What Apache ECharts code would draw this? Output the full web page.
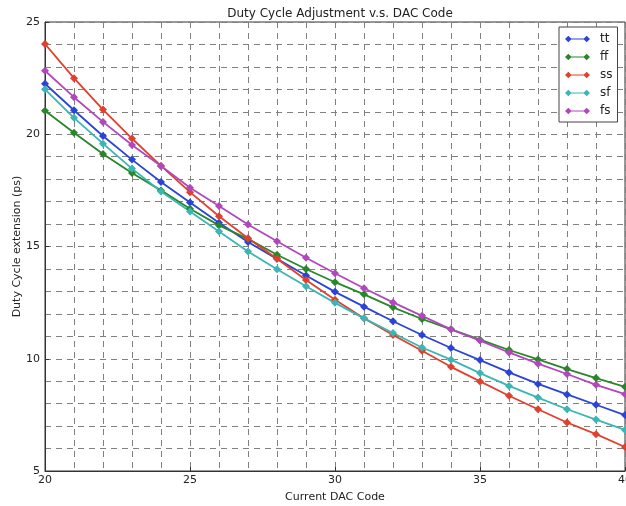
<!DOCTYPE html>
<html>
<head>
<meta charset="utf-8">
<script src="https://cdn.jsdelivr.net/npm/echarts@6/dist/echarts.min.js"></script>
<style>
html,body{margin:0;padding:0;background:#fff;}
#chart{width:626px;height:506px;}
</style>
</head>
<body>
<div id="chart"></div>
<script>
const codes = [20,21,22,23,24,25,26,27,28,29,30,31,32,33,34,35,36,37,38,39,40];
const seriesNames = ['tt','ff','ss','sf','fs'];
const tt = [22.25,21.07,19.92,18.87,17.87,16.96,16.06,15.2,14.45,13.71,12.98,12.32,11.67,11.06,10.48,9.94,9.39,8.88,8.41,7.95,7.49];
const ff = [21.05,20.07,19.12,18.27,17.5,16.68,15.94,15.34,14.63,14.0,13.41,12.87,12.29,11.77,11.31,10.85,10.39,9.97,9.54,9.14,8.75];
const ss = [24.02,22.5,21.1,19.81,18.59,17.42,16.35,15.37,14.45,13.51,12.63,11.8,11.06,10.36,9.64,8.99,8.35,7.75,7.16,6.64,6.07];
const sf = [22.0,20.73,19.58,18.47,17.45,16.56,15.67,14.78,13.99,13.23,12.49,11.8,11.15,10.5,9.96,9.36,8.79,8.27,7.75,7.29,6.83];
const fs = [22.83,21.65,20.55,19.52,18.59,17.62,16.8,15.98,15.23,14.5,13.81,13.14,12.51,11.91,11.31,10.81,10.28,9.78,9.32,8.84,8.42];
const colors = ['#2b44d6','#2a862a','#e0402e','#3cb5b5','#b048bc'];
const titleText = 'Duty Cycle Adjustment v.s. DAC Code';
const xLabel = 'Current DAC Code';
const yLabel = 'Duty Cycle extension (ps)';

const values = [tt, ff, ss, sf, fs];
const legendIcon = 'path://M0,4L4,0L8,4L4,8Z M22,4L26,0L30,4L26,8Z M4,3.3L26,3.3L26,4.7L4,4.7Z';
const gridLine = {show:true, lineStyle:{color:'#808080', width:1, type:[6,5]}};

const chart = echarts.init(document.getElementById('chart'), null, {renderer:'canvas'});
chart.setOption({
  animation:false,
  backgroundColor:'#ffffff',
  color: colors,
  title:{
    text:titleText, left:335, top:3, textAlign:'center',
    textStyle:{fontFamily:'DejaVu Sans', fontSize:12, fontWeight:'normal', color:'#222'}
  },
  legend:{
    data: seriesNames.map(n => ({name:n, icon:legendIcon})),
    orient:'vertical', left:559, top:27,
    padding:[6,5,5,6], itemWidth:25, itemHeight:9, itemGap:6,
    backgroundColor:'#fff', borderColor:'#444', borderWidth:1, borderRadius:0,
    textStyle:{fontFamily:'DejaVu Sans', fontSize:12, color:'#222', lineHeight:12, padding:[0,0,0,5]}
  },
  grid:{left:45, right:1, top:22, bottom:35, outerBoundsMode:'none', show:true, borderColor:'#333', borderWidth:1, backgroundColor:'transparent'},
  xAxis:{
    type:'value', min:20, max:40, interval:5,
    name:xLabel, nameLocation:'middle', nameGap:21, nameMoveOverlap:false,
    nameTextStyle:{fontFamily:'DejaVu Sans', fontSize:11, color:'#222'},
    axisLine:{show:true, onZero:false, lineStyle:{color:'#333'}},
    axisTick:{show:true, inside:true, length:4, lineStyle:{color:'#333'}},
    axisLabel:{fontFamily:'DejaVu Sans', fontSize:11, color:'#222', margin:4},
    splitLine:gridLine,
    minorTick:{show:false, splitNumber:5},
    minorSplitLine:gridLine
  },
  yAxis:{
    type:'value', min:5, max:25, interval:5,
    name:yLabel, nameLocation:'middle', nameGap:22, nameRotate:90, nameMoveOverlap:false,
    nameTextStyle:{fontFamily:'DejaVu Sans', fontSize:11, color:'#222'},
    axisLine:{show:true, onZero:false, lineStyle:{color:'#333'}},
    axisTick:{show:true, inside:true, length:4, lineStyle:{color:'#333'}},
    axisLabel:{fontFamily:'DejaVu Sans', fontSize:11, color:'#222', margin:5},
    splitLine:gridLine,
    minorTick:{show:false, splitNumber:5},
    minorSplitLine:gridLine
  },
  series: seriesNames.map((n,i) => ({
    name:n, type:'line',
    data: codes.map((c,j) => [c, values[i][j]]),
    symbol:'diamond', symbolSize:8, showSymbol:true,
    lineStyle:{width:1.8, color:colors[i]},
    itemStyle:{color:colors[i]},
    clip:false
  }))
});
</script>
</body>
</html>
